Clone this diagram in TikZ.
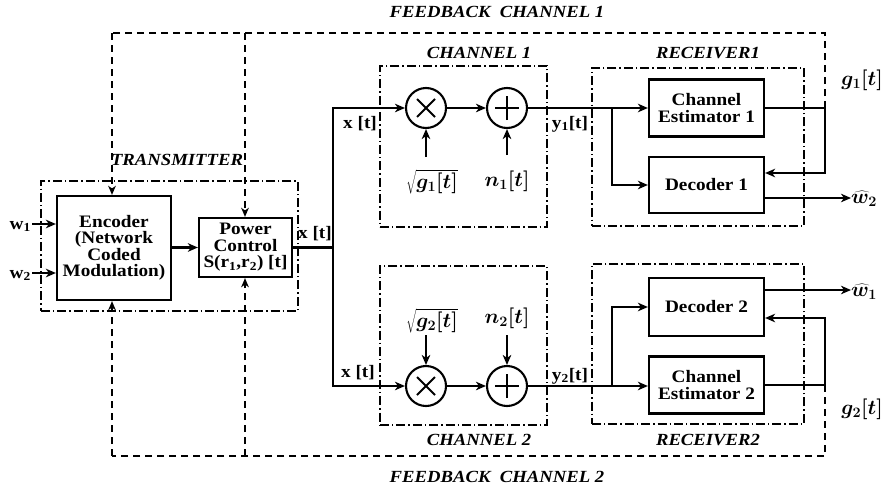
\documentclass[tikz,border=0pt]{standalone}
\usepackage{fontspec}
\setmainfont{Liberation Serif}[FakeStretch=1.1]
\usetikzlibrary{arrows.meta,calc}

\tikzset{
  blk/.style={draw, line width=2.2pt, align=center, inner sep=0pt,
    font=\fontsize{17.5}{16.5}\selectfont\bfseries},
  grp/.style={draw, line width=1.1pt, dash pattern=on 9pt off 3pt on 1.4pt off 3pt,
    inner sep=0pt},
  ttl/.style={font=\fontsize{17}{18}\selectfont\bfseries\itshape, anchor=base, inner sep=0pt},
  lbl/.style={font=\fontsize{17.5}{18}\selectfont\bfseries, anchor=base, inner sep=0pt},
  mth/.style={font=\fontsize{20}{22}\selectfont\boldmath, anchor=base, inner sep=0pt},
  ln/.style={line width=2.1pt},
  arr/.style={line width=2.1pt, -{Stealth[length=10pt,width=8.5pt,inset=3pt]}},
  fbk/.style={line width=2.1pt, dash pattern=on 7pt off 5pt},
  fbarr/.style={fbk, -{Stealth[length=9pt,width=7.5pt,inset=2.5pt]}},
  mulop/.style={circle, draw, line width=2.1pt, minimum size=40pt, inner sep=0pt,
    path picture={
      \draw[line width=1.8pt] ($(path picture bounding box.center)+(-9pt,-9pt)$) -- ++(18pt,18pt)
        ($(path picture bounding box.center)+(-9pt,9pt)$) -- ++(18pt,-18pt);}},
  addop/.style={circle, draw, line width=2.1pt, minimum size=40pt, inner sep=0pt,
    path picture={
      \draw[line width=1.8pt] ($(path picture bounding box.center)+(-12pt,0pt)$) -- ++(24pt,0pt)
        ($(path picture bounding box.center)+(0pt,-12pt)$) -- ++(0pt,24pt);}},
}

\begin{document}
\begin{tikzpicture}[x=1pt,y=-1pt]
\useasboundingbox (0,0) rectangle (885,493);

% ---- group frames ----
\node[grp, minimum width=257pt, minimum height=130pt] (tx) at (169.5,246) {};
\node[grp, minimum width=167pt, minimum height=161pt] (ch1) at (463.5,146.5) {};
\node[grp, minimum width=167pt, minimum height=159pt] (ch2) at (463.5,345.5) {};
\node[grp, minimum width=212pt, minimum height=158pt] (rx1) at (698,147) {};
\node[grp, minimum width=212pt, minimum height=160pt] (rx2) at (698,344) {};

% ---- titles ----
\node[ttl] (tfb1) at (497,17) {FEEDBACK\ \ CHANNEL 1};
\node[ttl] (tfb2) at (497,482) {FEEDBACK\ \ CHANNEL 2};
\node[ttl] (ttx) at (177,165) {TRANSMITTER};
\node[ttl] (tch1) at (479,58) {CHANNEL 1};
\node[ttl] (tch2) at (479,445) {CHANNEL 2};
\node[ttl] (trx1) at (708,58) {RECEIVER1};
\node[ttl] (trx2) at (708,445) {RECEIVER2};

% ---- transmitter blocks ----
\node[blk, minimum width=114pt, minimum height=104pt] (enc) at (114,248)
  {Encoder\\(Network\\Coded\\Modulation)};
\node[blk, minimum width=93pt, minimum height=59pt] (pc) at (245.5,247.5)
  {Power\\Control\\S(r\textsubscript{1},r\textsubscript{2}) [t]};

% ---- channel operators ----
\node[mulop] (m1) at (426,108) {};
\node[addop] (a1) at (507,108) {};
\node[mulop] (m2) at (426,386) {};
\node[addop] (a2) at (507,386) {};

% ---- receiver blocks ----
\node[blk, minimum width=115pt, minimum height=57pt] (ce1) at (706.5,108) {Channel\\Estimator 1};
\node[blk, minimum width=115pt, minimum height=56pt] (dec1) at (706.5,185) {Decoder 1};
\node[blk, minimum width=115pt, minimum height=58pt] (dec2) at (706.5,307) {Decoder 2};
\node[blk, minimum width=115pt, minimum height=57pt] (ce2) at (706.5,385) {Channel\\Estimator 2};

% ---- signal labels ----
\node[lbl, anchor=base east] (w1) at (31,229) {w\textsubscript{1}};
\node[lbl, anchor=base east] (w2) at (31,278) {w\textsubscript{2}};
\node[lbl] (xa) at (315,238) {x [t]};
\node[lbl] (xb) at (360,128) {x [t]};
\node[lbl] (xc) at (358,377) {x [t]};
\node[lbl] (y1) at (570,128) {y\textsubscript{1}[t]};
\node[lbl] (y2) at (570,380) {y\textsubscript{2}[t]};
\node[mth] (g1l) at (432,188) {$\sqrt{g_1[t]}$};
\node[mth] (n1l) at (507,186) {$n_1[t]$};
\node[mth] (g2l) at (432,327) {$\sqrt{g_2[t]}$};
\node[mth] (n2l) at (507,323) {$n_2[t]$};
\node[mth] (g1o) at (862,85) {$g_1[t]$};
\node[mth] (g2o) at (862,414) {$g_2[t]$};
\node[mth, anchor=base west] (wh2) at (851,203) {$\widehat{w}_2$};
\node[mth, anchor=base west] (wh1) at (851,296) {$\widehat{w}_1$};

% ---- inputs ----
\coordinate (w1a) at (32,224);
\coordinate (w2a) at (32,273);
\draw[arr] (w1a) -- (w1a -| enc.west);
\draw[arr] (w2a) -- (w2a -| enc.west);
\draw[arr] (enc.east |- pc.west) -- (pc.west);

% ---- split to both channels ----
\coordinate (sp) at (333,247.5);
\draw[ln] (pc.east) -- (sp);
\draw[arr] (sp) |- (m1.west);
\draw[arr] (sp) |- (m2.west);

% ---- channel 1 ----
\coordinate (g1s) at (426,157);
\coordinate (n1s) at (507,155);
\draw[arr] (g1s) -- (m1.south);
\draw[arr] (n1s) -- (a1.south);
\draw[arr] (m1.east) -- (a1.west);

% ---- channel 2 ----
\coordinate (g2s) at (426,335);
\coordinate (n2s) at (507,335);
\draw[arr] (g2s) -- (m2.north);
\draw[arr] (n2s) -- (a2.north);
\draw[arr] (m2.east) -- (a2.west);

% ---- receiver 1 ----
\coordinate (j1) at (612,108);
\draw[ln] (a1.east) -- (j1);
\draw[arr] (j1) -- (ce1.west);
\draw[arr] (j1) |- (dec1.west);
\coordinate (f1) at (825,108);
\coordinate (f1b) at (825,173);
\draw[ln] (ce1.east) -- (f1);
\draw[arr] (f1) -- (f1b) -- (f1b -| dec1.east);
\coordinate (o1) at (dec1.east |- 0,198);
\draw[arr] (o1) -- (o1 -| wh2.west);

% ---- receiver 2 ----
\coordinate (j2) at (612,386);
\draw[ln] (a2.east) -- (j2);
\draw[arr] (j2) -- (ce2.west |- j2);
\draw[arr] (j2) |- (dec2.west);
\coordinate (f2) at (825,385);
\coordinate (f2b) at (825,318);
\draw[ln] (ce2.east) -- (f2);
\draw[arr] (f2) -- (f2b) -- (f2b -| dec2.east);
\coordinate (o2) at (dec2.east |- 0,290);
\draw[arr] (o2) -- (o2 -| wh1.west);

% ---- feedback channel 1 (top) ----
\coordinate (tr) at (825,33);
\coordinate (tl) at (112,33);
\coordinate (tm) at (245,33);
\draw[fbk] (f1) -- (tr) -- (tl);
\draw[fbarr] (tl) -- (tl |- enc.north);
\draw[fbarr] (tm) -- (tm |- pc.north);

% ---- feedback channel 2 (bottom) ----
\coordinate (br) at (825,456);
\coordinate (bl) at (112,456);
\coordinate (bm) at (245,456);
\draw[fbk] (f2) -- (br) -- (bl);
\draw[fbarr] (bl) -- (bl |- enc.south);
\draw[fbarr] (bm) -- (bm |- pc.south);
\end{tikzpicture}
\end{document}
